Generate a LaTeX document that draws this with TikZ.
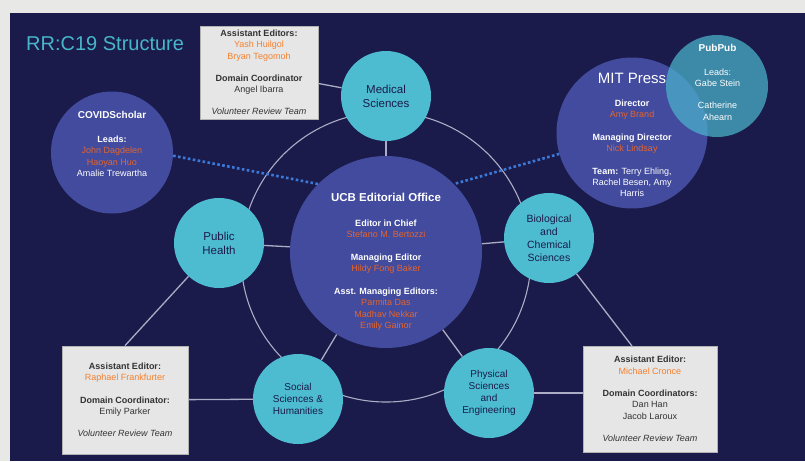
\documentclass[tikz,border=0pt]{standalone}
\usepackage{fontspec}
\setmainfont{Liberation Sans}
\usepackage{tikz}

% Colours
\definecolor{navy}{RGB}{26,27,74}
\definecolor{pagegrey}{RGB}{232,232,230}
\definecolor{titlecyan}{RGB}{72,182,202}
\definecolor{satcyan}{RGB}{77,188,208}
\definecolor{hubblue}{RGB}{66,75,158}
\definecolor{pubteal}{RGB}{75,180,205}
\definecolor{linegrey}{RGB}{172,172,198}
\definecolor{dotblue}{RGB}{60,120,215}
\definecolor{boxgrey}{RGB}{230,230,230}
\definecolor{boxname}{RGB}{245,128,45}
\definecolor{hubname}{RGB}{230,100,42}

\newcommand{\hd}[1]{\textbf{#1}}
\newcommand{\nm}[1]{\textcolor{boxname}{#1}}
\newcommand{\hnm}[1]{\textcolor{hubname}{#1}}

\tikzset{
  hub/.style={circle, fill=hubblue, inner sep=0pt},
  sat/.style={circle, fill=satcyan, minimum size=90pt, inner sep=0pt,
    align=center, text=navy, font=\fontsize{10}{12}\selectfont},
  hubtext/.style={align=center, text=white, inner sep=0pt, anchor=north,
    font=\fontsize{9}{11.3}\selectfont},
  infobox/.style={rectangle, fill=boxgrey, draw=black!30, line width=0.8pt,
    align=center, inner sep=0pt, text=black!80,
    font=\fontsize{9}{11.3}\selectfont},
  spoke/.style={draw=linegrey, line width=1.3pt},
  partner/.style={draw=dotblue, line width=2.6pt, dash pattern=on 2.6pt off 2.4pt}
}

\begin{document}
\begin{tikzpicture}[x=1pt, y=-1pt]

% Page and dark panel
\useasboundingbox (0,0) rectangle (805,461);
\fill[pagegrey] (0,0) rectangle (805,461);
\fill[navy] (10,13) rectangle (805,461);

% Title
\node[anchor=base west, inner sep=0pt, text=titlecyan,
  font=\fontsize{20}{24}\selectfont] (title) at (26,50) {RR:C19 Structure};

% Ring through the five domains
\draw[spoke, line width=1.1pt] (386,257) circle[radius=145pt];

% Hubs
\node[hub, minimum size=192pt] (ucb) at (386,252) {};
\node[hub, minimum size=122pt] (covid) at (112,152.5) {};
\node[hub, minimum size=151pt] (mit) at (632,133) {};

% Domains
\node[sat, font=\fontsize{11.5}{14}\selectfont] (med) at (386,96) {Medical\\Sciences};
\node[sat, font=\fontsize{11.5}{14}\selectfont] (pub) at (219,243) {Public\\Health};
\node[sat, font=\fontsize{10.5}{13}\selectfont] (bio) at (549,238) {Biological\\and\\Chemical\\Sciences};
\node[sat] (soc) at (298,399) {Social\\Sciences \&\\Humanities};
\node[sat] (phys) at (489,393) {Physical\\Sciences\\and\\Engineering};

% Spokes
\draw[spoke] (ucb) -- (med);
\draw[spoke] (ucb) -- (pub);
\draw[spoke] (ucb) -- (bio);
\draw[spoke] (ucb) -- (soc);
\draw[spoke] (ucb) -- (phys);

% Partner links
\draw[partner] (covid.357) -- (ucb.135);
\draw[partner] (mit.196) -- (ucb.45);

% PubPub overlaps MIT Press
\node[circle, fill=pubteal, fill opacity=0.72, inner sep=0pt, minimum size=102pt] (pubpub) at (717,86) {};

% Editor boxes
\node[infobox, minimum width=118pt, minimum height=93pt] (medbox) at (259,72.5)
  {\hd{Assistant Editors:}\\ \nm{Yash Huilgol}\\ \nm{Bryan Tegomoh}\\[11pt]
   \hd{Domain Coordinator}\\ Angel Ibarra\\[11pt] \textit{Volunteer Review Team}};
\node[infobox, minimum width=126pt, minimum height=108pt] (lbox) at (125,400)
  {\hd{Assistant Editor:}\\ \nm{Raphael Frankfurter}\\[11pt]
   \hd{Domain Coordinator:}\\ Emily Parker\\[11pt] \textit{Volunteer Review Team}};
\node[infobox, minimum width=134pt, minimum height=106pt] (rbox) at (650,399)
  {\hd{Assistant Editor:}\\ \nm{Michael Cronce}\\[11pt]
   \hd{Domain Coordinators:}\\ Dan Han\\ Jacob Laroux\\[11pt] \textit{Volunteer Review Team}};

% Box connectors
\coordinate (rtop) at (632,346);
\draw[spoke] (medbox) -- (med);
\draw[spoke] (lbox.north) -- (pub);
\draw[spoke] (lbox) -- (soc);
\draw[spoke] (phys) -- (phys -| rbox.west);
\draw[spoke] (rtop) -- (bio);

% Hub texts
\node[hubtext] (ucbtext) at (386,192.5)
  {\hd{\fontsize{11.5}{13}\selectfont UCB Editorial Office}\\[13.9pt]
   \hd{Editor in Chief}\\ \hnm{Stefano M. Bertozzi}\\[11.5pt]
   \hd{Managing Editor}\\ \hnm{Hildy Fong Baker}\\[11.5pt]
   \hd{Asst. Managing Editors:}\\ \hnm{Parmita Das}\\ \hnm{Madhav Nekkar}\\ \hnm{Emily Gainor}};
\node[hubtext] (covidtext) at (112,111.4)
  {\hd{\fontsize{10}{12}\selectfont COVIDScholar}\\[12.3pt]
   \hd{Leads:}\\ \hnm{John Dagdelen}\\ \hnm{Haoyan Huo}\\ Amalie Trewartha};
\node[hubtext] (mittext) at (632,72.7)
  {{\fontsize{15}{18}\selectfont MIT Press}\\[11.5pt]
   \hd{Director}\\ \hnm{Amy Brand}\\[11.5pt]
   \hd{Managing Director}\\ \hnm{Nick Lindsay}\\[11.5pt]
   \hd{Team:} Terry Ehling,\\ Rachel Besen, Amy\\ Harris};
\node[hubtext] (pubtext) at (717.5,44.4)
  {\hd{\fontsize{10}{12}\selectfont PubPub}\\[12.3pt]
   Leads:\\ Gabe Stein\\[10.7pt] Catherine\\ Ahearn};

\end{tikzpicture}
\end{document}
